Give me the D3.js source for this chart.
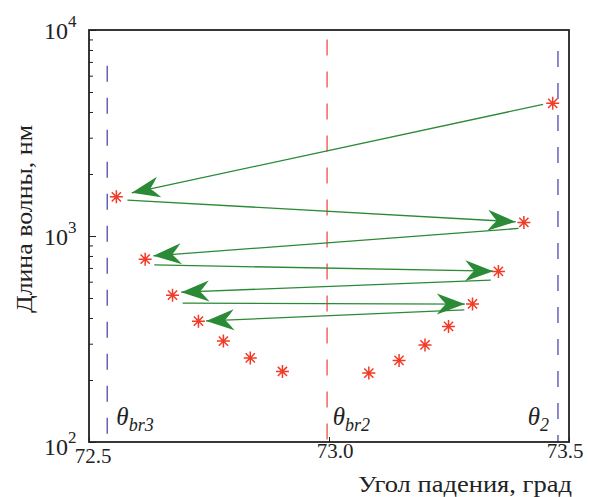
<!DOCTYPE html>
<html>
<head>
<meta charset="UTF-8">
<title>Угол падения</title>
<script src="https://cdn.jsdelivr.net/npm/d3@7"></script>
<style>
	body { margin: 0; background: #fff; }
	svg text { font-family: "Liberation Serif", "DejaVu Serif", serif; fill: #222; }
</style>
</head>
<body>
<svg id="chart" width="589" height="497"></svg>
<script>
// точки (угол, длина волны в нм), в порядке обхода
var angles = [73.466, 72.557, 73.406, 72.617, 73.353, 72.674, 73.299, 72.728, 73.249, 72.780, 73.200, 72.836, 73.146, 72.903, 73.083];
var waves  = [4405, 1549, 1164, 772, 673, 516, 468, 386, 364, 309, 296, 256, 249, 220, 216];

// стрелки: начало и конец (угол, нм)
var arrowX1 = [73.446, 72.580, 73.395, 72.636, 73.337, 72.695, 73.282];
var arrowY1 = [4353, 1494, 1088, 724, 610, 472, 438];
var arrowX2 = [72.589, 73.389, 72.634, 73.342, 72.692, 73.283, 72.744];
var arrowY2 = [1620, 1172, 801, 675, 534, 467, 387];

// вертикальные линии
var vlineX = [72.538, 72.996, 73.477];
var vlineTop = [6700, 9000, 7900];
var vlineColor = ["#5b58b0", "#e8604c", "#5b58b0"];
var vlineName = [["θ", "br3"], ["θ", "br2"], ["θ", "2"]];
var vlabelX = [72.557, 73.008, 73.414];

var xTicks = [72.5, 73.0, 73.5];
var xTickLabels = ["72.5", "73.0", "73.5"];
var yTicks = [100, 1000, 10000];
var yTickExp = ["2", "3", "4"];

var svg = d3.select("#chart");
var mLeft = 89, mRight = 569, mTop = 30, mBottom = 442;

var x = d3.scaleLinear().domain([72.5, 73.5]).range([mLeft, mRight]);
var y = d3.scaleLog().domain([100, 10000]).range([mBottom, mTop]);

// минорные деления по оси y
var minor = [];
[100, 1000].forEach(function (d) {
	for (var k = 2; k <= 9; k++) minor.push(d * k);
});

function darkTicks(g) {
	g.select(".domain").remove();
	g.selectAll("line").attr("stroke", "#222");
}

svg.append("g").attr("transform", "translate(" + mLeft + ",0)")
	.call(d3.axisRight(y).tickValues(minor).tickSize(4).tickFormat(""))
	.call(darkTicks);
svg.append("g").attr("transform", "translate(" + mLeft + ",0)")
	.call(d3.axisRight(y).tickValues(yTicks).tickSize(7).tickFormat(""))
	.call(darkTicks);
svg.append("g").attr("transform", "translate(0," + mBottom + ")")
	.call(d3.axisTop(x).tickValues(xTicks).tickSize(5).tickFormat(""))
	.call(darkTicks);

// вертикальные пунктирные линии
svg.selectAll(".vline").data(vlineX).enter().append("line")
	.attr("x1", function (d) { return x(d); })
	.attr("x2", function (d) { return x(d); })
	.attr("y1", function (d, i) { return y(vlineTop[i]); })
	.attr("y2", mBottom)
	.attr("stroke", function (d, i) { return vlineColor[i]; })
	.attr("stroke-width", 1.4)
	.attr("stroke-dasharray", "16,16");

// подписи θ
vlineName.forEach(function (n, i) {
	var t = svg.append("text")
		.attr("x", x(vlabelX[i]))
		.attr("y", 425)
		.style("font-size", "25px")
		.style("font-style", "italic");
	t.append("tspan").text(n[0]);
	t.append("tspan").attr("dy", 6).style("font-size", "18px").text(n[1]);
});

// стрелки
var green = "#2a8a35";
arrowX1.forEach(function (d, i) {
	var x1 = x(d), y1 = y(arrowY1[i]), x2 = x(arrowX2[i]), y2 = y(arrowY2[i]);
	var a = Math.atan2(y2 - y1, x2 - x1) * 180 / Math.PI;
	svg.append("line")
		.attr("x1", x1).attr("y1", y1).attr("x2", x2).attr("y2", y2)
		.attr("stroke", green).attr("stroke-width", 1.3);
	svg.append("path")
		.attr("d", "M0,0 L-28,-10.5 Q-23,-4 -19,0 Q-23,4 -28,10.5 Z")
		.attr("transform", "translate(" + x2 + "," + y2 + ") rotate(" + a + ")")
		.attr("fill", green);
});

// точки-звёздочки
var star = "M-6.5,0L6.5,0M0,-6.5L0,6.5M-4.6,-4.6L4.6,4.6M-4.6,4.6L4.6,-4.6";
svg.selectAll(".pt").data(angles).enter().append("path")
	.attr("d", star)
	.attr("transform", function (d, i) { return "translate(" + x(d) + "," + y(waves[i]) + ")"; })
	.attr("stroke", "#f23a26")
	.attr("stroke-width", 1.5)
	.attr("fill", "none");

// рамка
svg.append("rect")
	.attr("x", mLeft).attr("y", mTop)
	.attr("width", mRight - mLeft).attr("height", mBottom - mTop)
	.attr("fill", "none").attr("stroke", "#222").attr("stroke-width", 1.8);

// подписи делений
var xLabelShift = [4, 6, -4];
xTicks.forEach(function (d, i) {
	svg.append("text")
		.attr("x", x(d) + xLabelShift[i]).attr("y", i == 0 ? 463 : 458)
		.attr("text-anchor", "middle")
		.style("font-size", "21px")
		.text(xTickLabels[i]);
});
yTicks.forEach(function (d, i) {
	svg.append("text")
		.attr("x", 68).attr("y", y(d) + (i == 0 ? 13 : 9))
		.attr("text-anchor", "end")
		.style("font-size", "24px")
		.text("10");
	svg.append("text")
		.attr("x", 68).attr("y", y(d) + (i == 0 ? 1 : -3))
		.style("font-size", "17px")
		.text(yTickExp[i]);
});

// подписи осей
svg.append("text")
	.attr("x", 358).attr("y", 492)
	.attr("textLength", 214).attr("lengthAdjust", "spacingAndGlyphs")
	.style("font-size", "23px")
	.text("Угол падения, град");
svg.append("text")
	.attr("transform", "translate(32,219) rotate(-90)")
	.attr("text-anchor", "middle")
	.attr("textLength", 188).attr("lengthAdjust", "spacingAndGlyphs")
	.style("font-size", "23px")
	.text("Длина волны, нм");
</script>
</body>
</html>
